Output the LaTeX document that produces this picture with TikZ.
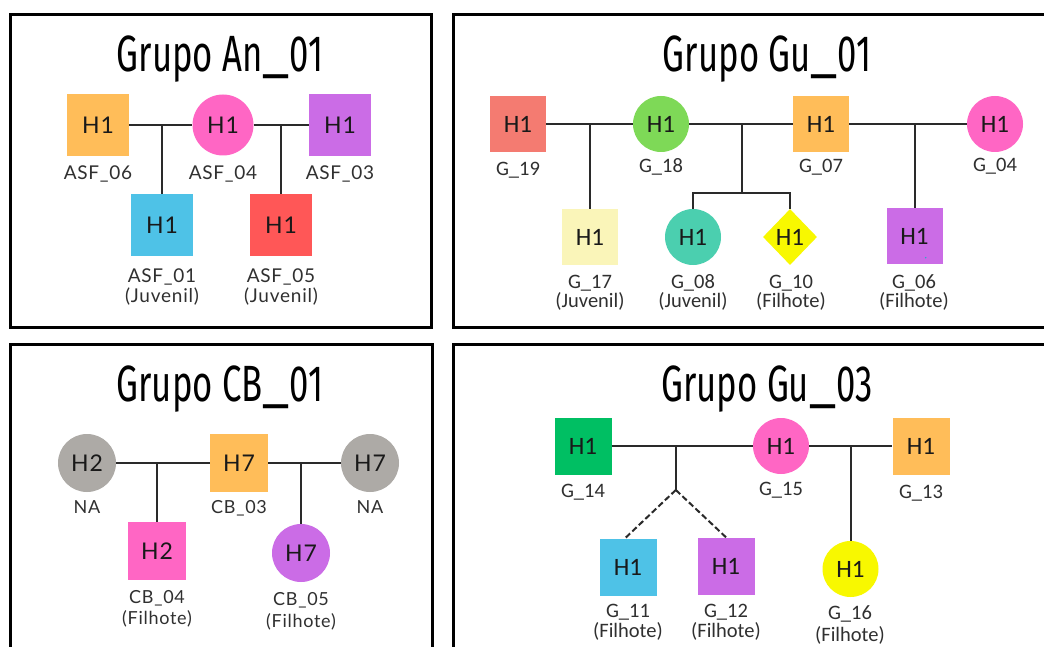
\documentclass[tikz,border=0pt]{standalone}
\usepackage{fontspec}
\usepackage{graphicx}
\usetikzlibrary{shapes.geometric}
\newfontfamily\titlef[FakeStretch=0.68]{Fira Sans}
\newfontfamily\latof[LetterSpace=4]{Lato}
\newfontfamily\carf{Carlito}
\newcommand{\wideus}{\scalebox{1.5}[1]{\_}}
\definecolor{corange}{HTML}{FFBD59}
\definecolor{cpink}{HTML}{FF66C4}
\definecolor{cpurple}{HTML}{CB6CE6}
\definecolor{cblue}{HTML}{4EC2E7}
\definecolor{cred}{HTML}{FF5757}
\definecolor{csalmon}{HTML}{F47B71}
\definecolor{cgreen}{HTML}{7ED957}
\definecolor{cpale}{HTML}{FAF5B9}
\definecolor{cteal}{HTML}{4BCFAF}
\definecolor{cyellow}{HTML}{F8F800}
\definecolor{cgray}{HTML}{ADAAA6}
\definecolor{cdgreen}{HTML}{00BF63}
\definecolor{cdot}{HTML}{1FB0C4}
\definecolor{labgray}{HTML}{303030}
\definecolor{linec}{HTML}{2A2A2A}
\begin{document}
\begin{tikzpicture}[x=1pt,y=-1pt,
  panel/.style={draw=black, line width=3pt},
  title/.style={anchor=base, inner sep=0pt, font={\titlef\fontsize{51}{56}\selectfont}},
  conn/.style={draw=linec, line width=2pt},
  dconn/.style={conn, dash pattern=on 6pt off 3pt},
  latoH/.style={font={\latof\fontsize{23}{26}\selectfont}, text=black!90},
  carH/.style={font={\carf\fontsize{25}{28}\selectfont}, text=black!90},
  sq1/.style={rectangle, minimum size=62pt, inner sep=0pt, latoH},
  ci1/.style={circle, minimum size=61pt, inner sep=0pt, latoH},
  sq2/.style={rectangle, minimum size=56pt, inner sep=0pt, carH},
  ci2/.style={circle, minimum size=56pt, inner sep=0pt, carH},
  dia2/.style={diamond, minimum width=54pt, minimum height=56pt, inner sep=0pt, carH},
  sq3/.style={rectangle, minimum size=58pt, inner sep=0pt, latoH},
  ci3/.style={circle, minimum size=58pt, inner sep=0pt, latoH},
  sq4/.style={rectangle, minimum size=57pt, inner sep=0pt, carH},
  ci4/.style={circle, minimum size=56pt, inner sep=0pt, carH},
  labA/.style={anchor=base, inner sep=0pt, text=labgray, font={\latof\fontsize{19}{22}\selectfont}},
  labC/.style={anchor=base, inner sep=0pt, text=labgray, font={\latof\fontsize{18}{21}\selectfont}},
  labB/.style={anchor=base, inner sep=0pt, text=labgray, font={\carf\fontsize{20.5}{23}\selectfont}}
]
\useasboundingbox (0,0) rectangle (1044,647);
\fill[white] (0,0) rectangle (1044,647);

% ---------------- Panel 1 ----------------
\draw[panel] (10,15) rectangle (431,327);
\node[title] (t1) at (220,72) {Grupo An\wideus 01};
\node[sq1, fill=corange] (asf06) at (98,125) {H1};
\node[ci1, fill=cpink] (asf04) at (223,125) {H1};
\node[sq1, fill=cpurple] (asf03) at (340,125) {H1};
\node[sq1, fill=cblue] (asf01) at (162,225) {H1};
\node[sq1, fill=cred] (asf05) at (281,225) {H1};
\node[labA] (l06) at (98,180) {ASF\_06};
\node[labA] (l04) at (223,180) {ASF\_04};
\node[labA] (l03) at (340,180) {ASF\_03};
\node[labA] (l01) at (162,282) {ASF\_01};
\node[labA] (l01b) at (162,302) {(Juvenil)};
\node[labA] (l05) at (281,282) {ASF\_05};
\node[labA] (l05b) at (281,302) {(Juvenil)};
\coordinate (j1a) at (162,125);
\coordinate (j1b) at (281,125);
\draw[conn] (asf06) -- (asf04);
\draw[conn] (asf04) -- (asf03);
\draw[conn] (j1a) -- (asf01.north);
\draw[conn] (j1b) -- (asf05.north);

% ---------------- Panel 2 ----------------
\draw[panel] (453,15) rectangle (1050,327);
\node[title] (t2) at (767,72) {Grupo Gu\wideus 01};
\node[sq2, fill=csalmon] (g19) at (518,124) {H1};
\node[ci2, fill=cgreen] (g18) at (661,124) {H1};
\node[sq2, fill=corange] (g07) at (821,124) {H1};
\node[ci2, fill=cpink] (g04) at (995,124) {H1};
\node[sq2, fill=cpale] (g17) at (590,237) {H1};
\node[ci2, fill=cteal] (g08) at (693,237) {H1};
\node[dia2, fill=cyellow] (g10) at (790,237) {H1};
\node[sq2, fill=cpurple] (g06) at (914.5,236) {H1};
\fill[cdot] (925.7,257.7) circle (0.8pt);
\node[labB] (lg19) at (518,176) {G\_19};
\node[labB] (lg18) at (661,173) {G\_18};
\node[labB] (lg07) at (821,173) {G\_07};
\node[labB] (lg04) at (995,172) {G\_04};
\node[labB] (lg17) at (590,288) {G\_17};
\node[labB] (lg17b) at (590,307) {(Juvenil)};
\node[labB] (lg08) at (693,288) {G\_08};
\node[labB] (lg08b) at (693,307) {(Juvenil)};
\node[labB] (lg10) at (791,288) {G\_10};
\node[labB] (lg10b) at (791,307) {(Filhote)};
\node[labB] (lg06) at (914,288) {G\_06};
\node[labB] (lg06b) at (914,307) {(Filhote)};
\coordinate (j2a) at (590,124);
\coordinate (j2b) at (741.7,124);
\coordinate (b2) at (741.7,193);
\coordinate (j2c) at (914.5,124);
\draw[conn] (g19) -- (g18);
\draw[conn] (g18) -- (g07);
\draw[conn] (g07) -- (g04);
\draw[conn] (j2a) -- (g17.north);
\draw[conn] (j2b) -- (b2);
\draw[conn] (g08.north) -- ++(0,-16) -| (g10.north);
\draw[conn] (j2c) -- (g06.north);

% ---------------- Panel 3 ----------------
\draw[panel] (10,344) rectangle (432,660);
\node[title] (t3) at (220,401) {Grupo CB\wideus 01};
\node[ci3, fill=cgray] (na1) at (87,463) {H2};
\node[sq3, fill=corange] (cb03) at (239,463) {H7};
\node[ci3, fill=cgray] (na2) at (370,463) {H7};
\node[sq3, fill=cpink] (cb04) at (157,551) {H2};
\node[ci3, fill=cpurple] (cb05) at (301,553) {H7};
\node[labC] (lna1) at (87,513) {NA};
\node[labC] (lcb03) at (239,513) {CB\_03};
\node[labC] (lna2) at (370,513) {NA};
\node[labC] (lcb04) at (157,603) {CB\_04};
\node[labC] (lcb04b) at (157,624) {(Filhote)};
\node[labC] (lcb05) at (301,605) {CB\_05};
\node[labC] (lcb05b) at (301,627) {(Filhote)};
\coordinate (j3a) at (157,463);
\coordinate (j3b) at (301,463);
\draw[conn] (na1) -- (cb03);
\draw[conn] (cb03) -- (na2);
\draw[conn] (j3a) -- (cb04.north);
\draw[conn] (j3b) -- (cb05.north);

% ---------------- Panel 4 ----------------
\draw[panel] (453,344) rectangle (1050,660);
\node[title] (t4) at (767,401) {Grupo Gu\wideus 03};
\node[sq4, fill=cdgreen] (g14) at (583,446) {H1};
\node[ci4, fill=cpink] (g15) at (781,446) {H1};
\node[sq4, fill=corange] (g13) at (921,446) {H1};
\node[sq4, fill=cblue] (g11) at (628,567) {H1};
\node[sq4, fill=cpurple] (g12) at (726,566) {H1};
\node[ci4, fill=cyellow] (g16) at (850.5,569) {H1};
\node[labB] (lg14) at (583,497) {G\_14};
\node[labB] (lg15) at (781,495) {G\_15};
\node[labB] (lg13) at (921,498) {G\_13};
\node[labB] (lg11) at (628,617) {G\_11};
\node[labB] (lg11b) at (628,637) {(Filhote)};
\node[labB] (lg12) at (726,617) {G\_12};
\node[labB] (lg12b) at (726,637) {(Filhote)};
\node[labB] (lg16) at (850,619) {G\_16};
\node[labB] (lg16b) at (850,641) {(Filhote)};
\coordinate (j4a) at (675.8,446);
\coordinate (j4b) at (675.8,490);
\coordinate (j4c) at (850.5,446);
\draw[conn] (g14) -- (g15);
\draw[conn] (g15) -- (g13);
\draw[conn] (j4a) -- (j4b);
\draw[dconn] (j4b) -- ([xshift=-3pt]g11.north);
\draw[dconn] (j4b) -- (g12.north);
\draw[conn] (j4c) -- (g16.north);
\end{tikzpicture}
\end{document}
